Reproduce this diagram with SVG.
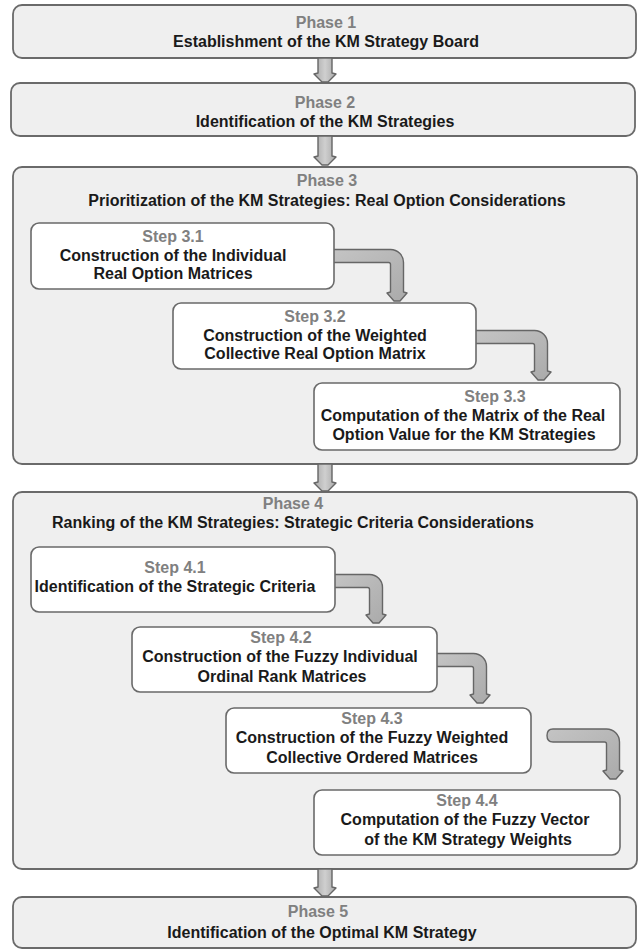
<svg xmlns="http://www.w3.org/2000/svg" width="638" height="950" viewBox="0 0 638 950">
<defs>
<linearGradient id="shaft" x1="0" y1="0" x2="1" y2="0">
<stop offset="0" stop-color="#a8a8a8"/>
<stop offset="0.5" stop-color="#cfcfcf"/>
<stop offset="1" stop-color="#a8a8a8"/>
</linearGradient>
<linearGradient id="elbow" x1="0" y1="0" x2="1" y2="1">
<stop offset="0" stop-color="#c4c4c4"/>
<stop offset="1" stop-color="#aaaaaa"/>
</linearGradient>
</defs>
<style>
.phase{fill:#efefef;stroke:#6a6a6a;stroke-width:1.8}
.step{fill:#ffffff;stroke:#6a6a6a;stroke-width:1.6}
.arr{fill:url(#shaft);stroke:#666;stroke-width:1.4;stroke-linejoin:round}
.elb{fill:url(#elbow);stroke:#666;stroke-width:1.4;stroke-linejoin:round}
text{font-family:"Liberation Sans",Arial,Helvetica,sans-serif;font-weight:bold;font-size:16px;text-anchor:middle}
.lbl{fill:#808080}
.txt{fill:#1a1a1a}
</style>
<rect x="0" y="0" width="638" height="950" fill="#ffffff"/>

<g id="phase1">
<rect class="phase" x="13" y="5" width="623" height="53" rx="9"/>
<text class="lbl" x="326" y="28">Phase 1</text>
<text class="txt" x="326" y="47">Establishment of the KM Strategy Board</text>
</g>
<g id="phase2">
<rect class="phase" x="11" y="83" width="624" height="53" rx="9"/>
<text class="lbl" x="325" y="108">Phase 2</text>
<text class="txt" x="325" y="127">Identification of the KM Strategies</text>
</g>
<g id="phase3">
<rect class="phase" x="13" y="167" width="624" height="297" rx="9"/>
<text class="lbl" x="327" y="186">Phase 3</text>
<text class="txt" x="327" y="206">Prioritization of the KM Strategies: Real Option Considerations</text>
</g>
<g id="phase4">
<rect class="phase" x="13" y="492" width="624" height="377" rx="9"/>
<text class="lbl" x="293" y="509">Phase 4</text>
<text class="txt" x="293" y="528">Ranking of the KM Strategies: Strategic Criteria Considerations</text>
</g>
<g id="phase5">
<rect class="phase" x="13" y="897" width="623" height="51" rx="9"/>
<text class="lbl" x="318" y="917">Phase 5</text>
<text class="txt" x="322" y="938">Identification of the Optimal KM Strategy</text>
</g>

<g id="connectors">
<path class="arr" d="M318,58 V73 L314,74 L322,82 L328,82 L336,74 L332,73 V58 Z"/>
<path class="arr" d="M318,136 V156 L314,157 L322,165 L328,165 L336,157 L332,156 V136 Z"/>
<path class="arr" d="M318,464 V482 L314,483 L322,491 L328,491 L336,483 L332,482 V464 Z"/>
<path class="arr" d="M318,869 V887 L314,888 L322,896 L328,896 L336,888 L332,887 V869 Z"/>
<path class="elb" d="M333,249.5 H390.5 A13,13 0 0 1 403.5,262.5 V292 L407,293 L400,301 L394,301 L387,293 L390.5,292 V264.5 Q390.5,262.5 388.5,262.5 H333 Z"/>
<path class="elb" d="M475,330.5 H534.5 A13,13 0 0 1 547.5,343.5 V371 L551,372 L544,380 L538,380 L531,372 L534.5,371 V345.5 Q534.5,343.5 532.5,343.5 H475 Z"/>
<path class="elb" d="M334,574.5 H369.5 A13,13 0 0 1 382.5,587.5 V614 L386,615 L379,623 L373,623 L366,615 L369.5,614 V589.5 Q369.5,587.5 367.5,587.5 H334 Z"/>
<path class="elb" d="M436,653.5 H473.5 A13,13 0 0 1 486.5,666.5 V694 L490,695 L483,703 L477,703 L470,695 L473.5,694 V668.5 Q473.5,666.5 471.5,666.5 H436 Z"/>
<path class="elb" d="M553,729 H606.5 A13,13 0 0 1 619.5,742 V770 L623,771 L616,779 L610,779 L603,771 L606.5,770 V744 Q606.5,742 604.5,742 H553 Q547,742 547,735.5 Q547,729 553,729 Z"/>
</g>

<g id="step31">
<rect class="step" x="31" y="223" width="303" height="66" rx="8"/>
<text class="lbl" x="173" y="242">Step 3.1</text>
<text class="txt" x="173" y="261">Construction of the Individual</text>
<text class="txt" x="173" y="279">Real Option Matrices</text>
</g>
<g id="step32">
<rect class="step" x="173" y="303" width="303" height="66" rx="8"/>
<text class="lbl" x="315" y="322">Step 3.2</text>
<text class="txt" x="315" y="341">Construction of the Weighted</text>
<text class="txt" x="315" y="359">Collective Real Option Matrix</text>
</g>
<g id="step33">
<rect class="step" x="314" y="383" width="306" height="67" rx="8"/>
<text class="lbl" x="495" y="402">Step 3.3</text>
<text class="txt" x="463" y="421">Computation of the Matrix of the Real</text>
<text class="txt" x="464" y="440">Option Value for the KM Strategies</text>
</g>
<g id="step41">
<rect class="step" x="31" y="547" width="304" height="65" rx="8"/>
<text class="lbl" x="175" y="573">Step 4.1</text>
<text class="txt" x="175" y="592">Identification of the Strategic Criteria</text>
</g>
<g id="step42">
<rect class="step" x="132" y="627" width="305" height="65" rx="8"/>
<text class="lbl" x="281" y="643">Step 4.2</text>
<text class="txt" x="280" y="662">Construction of the Fuzzy Individual</text>
<text class="txt" x="282" y="682">Ordinal Rank Matrices</text>
</g>
<g id="step43">
<rect class="step" x="226" y="708" width="305" height="65" rx="8"/>
<text class="lbl" x="372" y="724">Step 4.3</text>
<text class="txt" x="372" y="743">Construction of the Fuzzy Weighted</text>
<text class="txt" x="372" y="763">Collective Ordered Matrices</text>
</g>
<g id="step44">
<rect class="step" x="314" y="790" width="306" height="65" rx="8"/>
<text class="lbl" x="467" y="806">Step 4.4</text>
<text class="txt" x="465" y="825">Computation of the Fuzzy Vector</text>
<text class="txt" x="468" y="845">of the KM Strategy Weights</text>
</g>
</svg>
